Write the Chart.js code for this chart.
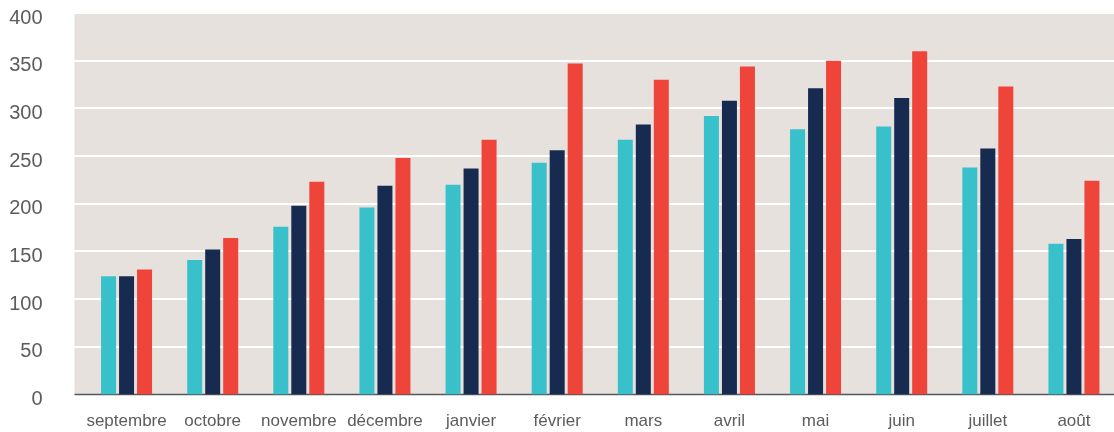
<!DOCTYPE html>
<html>
<head>
<meta charset="utf-8">
<script src="https://cdn.jsdelivr.net/npm/chart.js@4"></script>
<style>
  html, body { margin: 0; padding: 0; background: #fff; overflow: hidden; }
  #wrap { width: 1118px; height: 432px; position: relative; }
</style>
</head>
<body>
<div id="wrap"><canvas id="chart"></canvas></div>
<script>
// Données
const mois = ['septembre', 'octobre', 'novembre', 'décembre', 'janvier', 'février',
              'mars', 'avril', 'mai', 'juin', 'juillet', 'août'];
const serieTurquoise = [124, 141, 176, 196, 220, 243, 267, 292, 278, 281, 238, 158];
const serieMarine    = [124, 152, 198, 219, 237, 256, 283, 308, 321, 311, 258, 163];
const serieRouge     = [131, 164, 223, 248, 267, 347, 330, 344, 350, 360, 323, 224];
const ticksY = [0, 50, 100, 150, 200, 250, 300, 350, 400];

// Fond beige + lignes blanches, un peu plus large que la zone du graphique
const fondPlugin = {
    id: 'fond',
    beforeDraw(chart) {
        const { ctx, chartArea, scales } = chart;
        const left = chartArea.left - 9;
        ctx.save();
        ctx.fillStyle = '#e6e1dd';
        ctx.fillRect(left, chartArea.top, chartArea.right - left, chartArea.bottom - chartArea.top);
        ctx.strokeStyle = '#ffffff';
        ctx.lineWidth = 2;
        ticksY.forEach(function(v) {
            if (v === 0) return;
            const y = Math.round(scales.y.getPixelForValue(v));
            ctx.beginPath();
            ctx.moveTo(left, y);
            ctx.lineTo(chartArea.right, y);
            ctx.stroke();
        });
        // axe du bas
        ctx.strokeStyle = '#55575a';
        ctx.lineWidth = 1.5;
        ctx.beginPath();
        ctx.moveTo(left, chartArea.bottom);
        ctx.lineTo(chartArea.right, chartArea.bottom);
        ctx.stroke();
        ctx.restore();
    }
};

const ctx = document.getElementById('chart').getContext('2d');
new Chart(ctx, {
    type: 'bar',
    data: {
        labels: mois,
        datasets: [
            { data: serieTurquoise, backgroundColor: '#38c1ca' },
            { data: serieMarine,    backgroundColor: '#172a50' },
            { data: serieRouge,     backgroundColor: '#ee4439' }
        ]
    },
    options: {
        responsive: true,
        maintainAspectRatio: false,
        animation: false,
        layout: { padding: { top: 13, right: 1, bottom: 0, left: 0 } },
        datasets: {
            bar: { categoryPercentage: 0.627, barPercentage: 0.833 }
        },
        plugins: {
            legend: { display: false },
            tooltip: { enabled: false }
        },
        scales: {
            x: {
                afterFit(axis) {
                    axis.height = 37.5;
                    axis.paddingLeft = 0;
                    axis.paddingRight = 0;
                },
                grid: { display: false, drawTicks: false },
                border: { display: false },
                ticks: {
                    color: '#5c5c5c',
                    padding: 17,
                    maxRotation: 0,
                    autoSkip: false,
                    font: { family: '"Liberation Sans", Arial, sans-serif', size: 17 }
                }
            },
            y: {
                min: 0,
                max: 400,
                afterBuildTicks(axis) {
                    axis.ticks = ticksY.map(function(v) { return { value: v }; });
                },
                afterFit(axis) {
                    // le padding des étiquettes ne doit pas réduire la hauteur
                    axis.width = 83.5;
                    axis.paddingTop = 0;
                    axis.paddingBottom = 0;
                },
                grid: { display: false, drawTicks: false },
                border: { display: false },
                ticks: {
                    color: '#5c5c5c',
                    padding: 41,
                    labelOffset: 5,
                    font: { family: '"Liberation Sans", Arial, sans-serif', size: 20 }
                }
            }
        }
    },
    plugins: [fondPlugin]
});
</script>
</body>
</html>
